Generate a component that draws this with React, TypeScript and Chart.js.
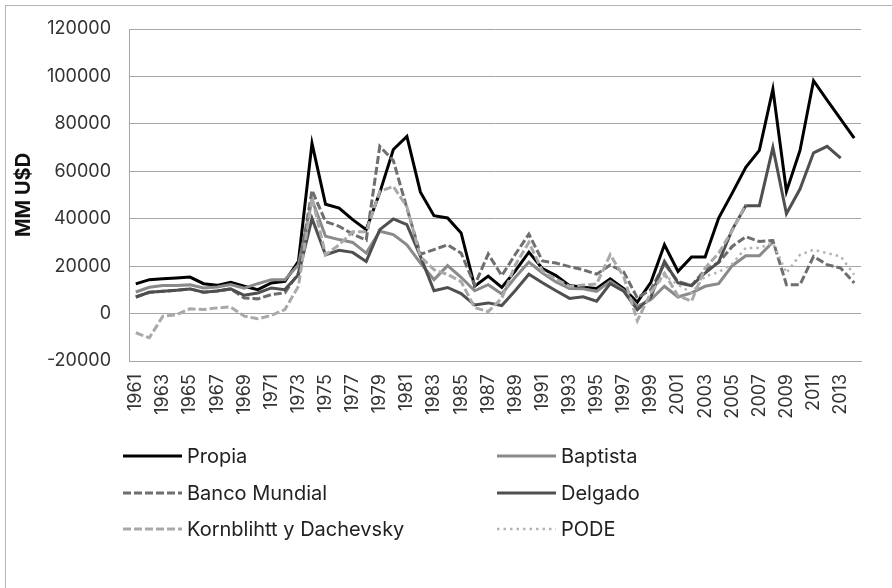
import React, { useEffect, useRef } from 'react';
import { Chart, registerables } from 'chart.js';

Chart.register(...registerables);

const years: string[] = [
  '1961', '1962', '1963', '1964', '1965', '1966', '1967', '1968', '1969', '1970',
  '1971', '1972', '1973', '1974', '1975', '1976', '1977', '1978', '1979', '1980',
  '1981', '1982', '1983', '1984', '1985', '1986', '1987', '1988', '1989', '1990',
  '1991', '1992', '1993', '1994', '1995', '1996', '1997', '1998', '1999', '2000',
  '2001', '2002', '2003', '2004', '2005', '2006', '2007', '2008', '2009', '2010',
  '2011', '2012', '2013', '2014',
];

const propia: (number | null)[] = [
  12500, 14300, 14700, 15000, 15400, 12600, 11900, 13200, 11500, 10100,
  12900, 13600, 22000, 71800, 46100, 44500, 39600, 35400, 51000, 69200,
  74700, 51200, 41300, 40300, 34000, 11500, 15800, 11000, 18000, 25900,
  19000, 16000, 11800, 11100, 10600, 14600, 10500, 4800, 13200, 29000,
  17800, 23900, 23900, 40300, 50800, 61700, 68800, 94600, 51500, 68800,
  98200, 90000, 82000, 74000,
];

const baptista: (number | null)[] = [
  9100, 11100, 11800, 11800, 12100, 10800, 11200, 12200, 10700, 12600,
  14300, 14300, 20600, 48000, 32600, 31200, 30000, 25500, 34700, 33300,
  29000, 21300, 14300, 20200, 15300, 9600, 12200, 8300, 15300, 21700,
  17100, 13300, 10600, 10500, 9400, 13600, 9800, 3000, 5900, 11500,
  7000, 8700, 11500, 12600, 20200, 24400, 24400, 30200, null, null,
  null, null, null, null,
];

const bancoMundial: (number | null)[] = [
  7000, 9000, 9400, 9800, 10400, 9000, 9500, 10400, 6600, 6200,
  8000, 8700, 17100, 52000, 38800, 36800, 33500, 31000, 70500, 64500,
  44500, 25000, 27000, 29000, 25500, 12000, 25100, 16000, 25000, 33500,
  22200, 21300, 19800, 18500, 16600, 20500, 17500, 6600, 10100, 21000,
  13500, 11800, 18500, 21500, 28300, 32400, 30400, 30800, 12200, 12200,
  24100, 20600, 19200, 12900,
];

const delgado: (number | null)[] = [
  7000, 9000, 9400, 9800, 10400, 9000, 9500, 10400, 7700, 8700,
  10800, 10100, 16400, 40100, 24800, 26700, 25800, 22000, 35400, 39900,
  37500, 24100, 9600, 11000, 8400, 3600, 4500, 3400, 9700, 16600,
  13000, 9600, 6400, 7100, 5200, 12600, 9400, 1600, 7000, 22000,
  12900, 11800, 17100, 21700, 35400, 45500, 45500, 70000, 42100, 52500,
  67800, 70500, 65500, null,
];

const kornblihtt: (number | null)[] = [
  -8100, -10200, -1100, -500, 2000, 1700, 2400, 2800, -1100, -2200,
  -800, 1700, 11500, 49000, 24800, 29000, 34500, 34500, 51500, 53600,
  45000, 24000, 18500, 16500, 13500, 2500, 800, 6500, 20500, 30000,
  18000, 14500, 11500, 12000, 12500, 24800, 15500, -3000, 8800, 17000,
  7500, 5200, 19200, 25500, 35000, 46000, null, null, null, null,
  null, null, null, null,
];

const pode: (number | null)[] = [
  null, null, null, null, null, null, null, null, null, null,
  null, null, null, null, null, null, null, null, null, null,
  null, null, null, null, null, null, null, null, null, null,
  null, null, null, null, null, null, null, null, 9000, 16000,
  12200, 8700, 15700, 17500, 21000, 27700, 27700, 29800, 17100, 24800,
  26900, 25500, 24100, 16400,
];

const yMin = -20000;
const yMax = 120000;
const yStep = 20000;
const yTitle = 'MM U$D';

const FONT = 'Inter';

const overlayPlugin = {
  id: 'overlay',
  afterDraw(chart: any) {
    const ctx = chart.ctx as CanvasRenderingContext2D;
    const xs = chart.scales.x;
    const area = chart.chartArea;
    ctx.save();
    // x tick labels (every other year), vertical
    ctx.fillStyle = '#333333';
    ctx.font = `18px ${FONT}`;
    ctx.textAlign = 'right';
    ctx.textBaseline = 'middle';
    years.forEach((label, i) => {
      if (i % 2 !== 0) return;
      const px = xs.getPixelForValue(i);
      ctx.save();
      ctx.translate(px, area.bottom + 13);
      ctx.rotate(-Math.PI / 2);
      ctx.fillText(label, 0, 0);
      ctx.restore();
    });
    // legend, two columns
    const rowsY = [456, 493, 529];
    const colX = [123, 497];
    chart.data.datasets.forEach((ds: any, i: number) => {
      const col = i % 2;
      const row = Math.floor(i / 2);
      const x0 = colX[col];
      const y = rowsY[row];
      ctx.beginPath();
      ctx.setLineDash(ds.borderDash || []);
      ctx.lineWidth = ds.borderWidth;
      ctx.strokeStyle = ds.borderColor;
      ctx.lineCap = 'butt';
      ctx.moveTo(x0, y);
      ctx.lineTo(x0 + 59, y);
      ctx.stroke();
      ctx.setLineDash([]);
      ctx.fillStyle = '#222222';
      ctx.textAlign = 'left';
      ctx.textBaseline = 'middle';
      ctx.font = `20px ${FONT}`;
      ctx.fillText(ds.label, x0 + 64, y + 1);
    });
    ctx.restore();
  },
};

export default function App() {
  const ref = useRef<HTMLCanvasElement | null>(null);

  useEffect(() => {
    if (!ref.current) return;
    const chart = new Chart(ref.current, {
      type: 'line',
      data: {
        labels: years,
        datasets: [
          { label: 'Propia', data: propia, borderColor: '#000000', borderWidth: 3, order: 5 },
          { label: 'Baptista', data: baptista, borderColor: '#8a8a8a', borderWidth: 3, order: 4 },
          { label: 'Banco Mundial', data: bancoMundial, borderColor: '#6e6e6e', borderWidth: 3, borderDash: [8, 3], order: 3 },
          { label: 'Delgado', data: delgado, borderColor: '#4f4f4f', borderWidth: 3, order: 2 },
          { label: 'Kornblihtt y Dachevsky', data: kornblihtt, borderColor: '#a9a9a9', borderWidth: 3, borderDash: [8, 3], order: 1 },
          { label: 'PODE', data: pode, borderColor: '#b3b3b3', borderWidth: 2.5, borderDash: [2.5, 4], order: 0 },
        ].map((d) => ({ ...d, pointRadius: 0, pointHoverRadius: 0, tension: 0, fill: false, spanGaps: false })) as any,
      },
      options: {
        animation: false,
        responsive: false,
        events: [],
        layout: { padding: { left: 0, top: 29, right: 31, bottom: 217 } },
        plugins: { legend: { display: false }, tooltip: { enabled: false } },
        scales: {
          x: {
            type: 'category',
            offset: true,
            grid: { display: false, drawTicks: false },
            border: { display: true, color: '#a6a6a6', width: 1 },
            ticks: { display: false },
            afterFit: (s: any) => { s.height = 10; },
          },
          y: {
            min: yMin,
            max: yMax,
            grid: { color: '#a6a6a6', lineWidth: 1, drawTicks: false },
            border: { display: true, color: '#a6a6a6', width: 1 },
            ticks: {
              stepSize: yStep,
              padding: 18,
              color: '#333333',
              font: { family: FONT, size: 18 },
              callback: (v: any) => String(v),
            },
            title: {
              display: true,
              text: yTitle,
              color: '#111111',
              font: { family: FONT, size: 20, weight: 'bold' },
              padding: { top: 12, bottom: 0 },
            },
            afterFit: (s: any) => { s.width = 129; },
          },
        },
      },
      plugins: [overlayPlugin],
    });
    return () => chart.destroy();
  }, []);

  return (
    <div style={{ position: 'fixed', left: 0, top: 0, width: 892, height: 588, overflow: 'hidden', background: '#ffffff' }}>
      <div style={{ position: 'absolute', left: 5, top: 5, width: 1000, height: 1000, border: '1px solid #b4b4b4' }} />
      <canvas ref={ref} width={892} height={588} style={{ position: 'absolute', left: 0, top: 0, width: 892, height: 588 }} />
    </div>
  );
}
